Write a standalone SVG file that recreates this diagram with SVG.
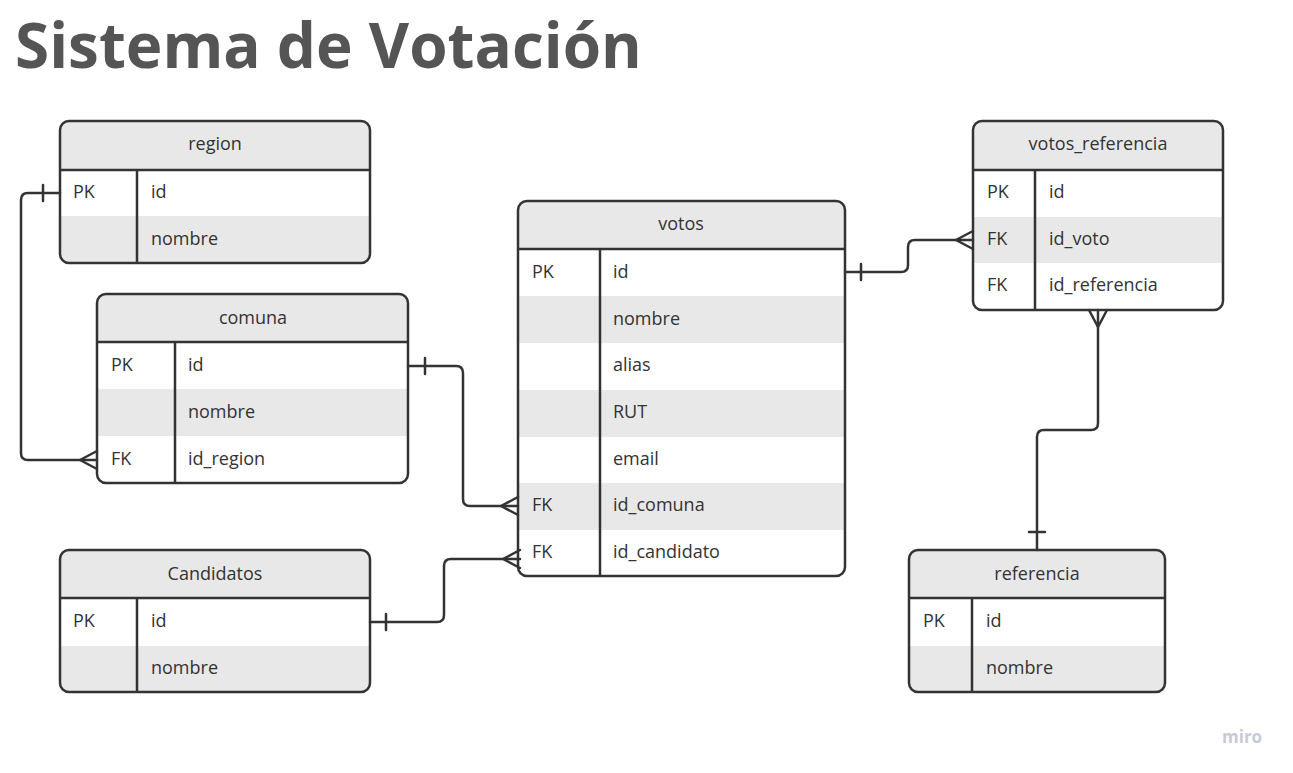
<svg xmlns="http://www.w3.org/2000/svg" width="1293" height="773" viewBox="0 0 1293 773">
<style>
.title{font-family:"Open Sans","Noto Sans",sans-serif;font-weight:700;font-size:62px;fill:#555555}
.hd{font-family:"Open Sans","Noto Sans",sans-serif;font-size:18px;fill:#333333;text-anchor:middle}
.tx{font-family:"Open Sans","Noto Sans",sans-serif;font-size:18px;fill:#333333}
.frame{fill:none;stroke:#333333;stroke-width:2.5}
.line{stroke:#333333;stroke-width:2.5;fill:none}
.gray{fill:#e8e8e8}
.white{fill:#ffffff}
.conn{fill:none;stroke:#333333;stroke-width:2.5;stroke-linejoin:round;stroke-linecap:round}
.miro{font-family:"Open Sans","Noto Sans",sans-serif;font-weight:700;font-size:17px;fill:#c9c9d6}
</style>
<rect width="1293" height="773" fill="#ffffff"/>
<text class="title" x="15" y="68">Sistema de Votación</text>

<g id="region">
<clipPath id="c-region"><rect x="60" y="121" width="310" height="142" rx="9"/></clipPath>
<g clip-path="url(#c-region)">
<rect class="gray" x="60" y="121" width="310" height="49"/>
<rect class="white" x="60" y="170" width="310" height="46"/>
<rect class="gray" x="60" y="216" width="310" height="47"/>
</g>
<rect class="frame" x="60" y="121" width="310" height="142" rx="9"/>
<line class="line" x1="60" y1="170" x2="370" y2="170"/>
<line class="line" x1="137" y1="170" x2="137" y2="263"/>
<text class="hd" x="215" y="150">region</text>
<text class="tx" x="73" y="198">PK</text><text class="tx" x="151" y="198">id</text>
<text class="tx" x="151" y="245">nombre</text>
</g>

<g id="comuna">
<clipPath id="c-comuna"><rect x="97" y="294" width="311" height="189" rx="9"/></clipPath>
<g clip-path="url(#c-comuna)">
<rect class="gray" x="97" y="294" width="311" height="48"/>
<rect class="white" x="97" y="342" width="311" height="47"/>
<rect class="gray" x="97" y="389" width="311" height="47"/>
<rect class="white" x="97" y="436" width="311" height="47"/>
</g>
<rect class="frame" x="97" y="294" width="311" height="189" rx="9"/>
<line class="line" x1="97" y1="342" x2="408" y2="342"/>
<line class="line" x1="175" y1="342" x2="175" y2="483"/>
<text class="hd" x="253" y="324">comuna</text>
<text class="tx" x="111" y="371">PK</text><text class="tx" x="188" y="371">id</text>
<text class="tx" x="188" y="418">nombre</text>
<text class="tx" x="111" y="465">FK</text><text class="tx" x="188" y="465">id_region</text>
</g>

<g id="votos">
<clipPath id="c-votos"><rect x="518" y="201" width="327" height="375" rx="9"/></clipPath>
<g clip-path="url(#c-votos)">
<rect class="gray" x="518" y="201" width="327" height="48"/>
<rect class="white" x="518" y="249" width="327" height="47"/>
<rect class="gray" x="518" y="296" width="327" height="47"/>
<rect class="white" x="518" y="343" width="327" height="47"/>
<rect class="gray" x="518" y="390" width="327" height="47"/>
<rect class="white" x="518" y="437" width="327" height="46"/>
<rect class="gray" x="518" y="483" width="327" height="47"/>
<rect class="white" x="518" y="530" width="327" height="46"/>
</g>
<rect class="frame" x="518" y="201" width="327" height="375" rx="9"/>
<line class="line" x1="518" y1="249" x2="845" y2="249"/>
<line class="line" x1="600" y1="249" x2="600" y2="576"/>
<text class="hd" x="681" y="230">votos</text>
<text class="tx" x="532" y="278">PK</text><text class="tx" x="613" y="278">id</text>
<text class="tx" x="613" y="325">nombre</text>
<text class="tx" x="613" y="371">alias</text>
<text class="tx" x="613" y="418">RUT</text>
<text class="tx" x="613" y="465">email</text>
<text class="tx" x="532" y="511">FK</text><text class="tx" x="613" y="511">id_comuna</text>
<text class="tx" x="532" y="558">FK</text><text class="tx" x="613" y="558">id_candidato</text>
</g>

<g id="votos_referencia">
<clipPath id="c-vr"><rect x="973" y="121" width="250" height="189" rx="9"/></clipPath>
<g clip-path="url(#c-vr)">
<rect class="gray" x="973" y="121" width="250" height="49"/>
<rect class="white" x="973" y="170" width="250" height="47"/>
<rect class="gray" x="973" y="217" width="250" height="46"/>
<rect class="white" x="973" y="263" width="250" height="47"/>
</g>
<rect class="frame" x="973" y="121" width="250" height="189" rx="9"/>
<line class="line" x1="973" y1="170" x2="1223" y2="170"/>
<line class="line" x1="1035" y1="170" x2="1035" y2="310"/>
<text class="hd" x="1098" y="150">votos_referencia</text>
<text class="tx" x="987" y="198">PK</text><text class="tx" x="1049" y="198">id</text>
<text class="tx" x="987" y="245">FK</text><text class="tx" x="1049" y="245">id_voto</text>
<text class="tx" x="987" y="291">FK</text><text class="tx" x="1049" y="291">id_referencia</text>
</g>

<g id="Candidatos">
<clipPath id="c-cand"><rect x="60" y="550" width="310" height="142" rx="9"/></clipPath>
<g clip-path="url(#c-cand)">
<rect class="gray" x="60" y="550" width="310" height="48"/>
<rect class="white" x="60" y="598" width="310" height="48"/>
<rect class="gray" x="60" y="646" width="310" height="46"/>
</g>
<rect class="frame" x="60" y="550" width="310" height="142" rx="9"/>
<line class="line" x1="60" y1="598" x2="370" y2="598"/>
<line class="line" x1="137" y1="598" x2="137" y2="692"/>
<text class="hd" x="215" y="580">Candidatos</text>
<text class="tx" x="73" y="627">PK</text><text class="tx" x="151" y="627">id</text>
<text class="tx" x="151" y="674">nombre</text>
</g>

<g id="referencia">
<clipPath id="c-ref"><rect x="909" y="550" width="256" height="142" rx="9"/></clipPath>
<g clip-path="url(#c-ref)">
<rect class="gray" x="909" y="550" width="256" height="48"/>
<rect class="white" x="909" y="598" width="256" height="48"/>
<rect class="gray" x="909" y="646" width="256" height="46"/>
</g>
<rect class="frame" x="909" y="550" width="256" height="142" rx="9"/>
<line class="line" x1="909" y1="598" x2="1165" y2="598"/>
<line class="line" x1="972" y1="598" x2="972" y2="692"/>
<text class="hd" x="1037" y="580">referencia</text>
<text class="tx" x="923" y="627">PK</text><text class="tx" x="986" y="627">id</text>
<text class="tx" x="986" y="674">nombre</text>
</g>

<g id="connectors">
<!-- region - comuna -->
<path class="conn" d="M60,193 H28 Q21,193 21,200 V453 Q21,460 28,460 H97"/>
<path class="conn" d="M43,185 V201"/>
<path class="conn" d="M97,451 L80,460 L97,469"/>
<!-- comuna - votos -->
<path class="conn" d="M408,366 H456 Q463,366 463,373 V499 Q463,506 470,506 H518"/>
<path class="conn" d="M425,358 V374"/>
<path class="conn" d="M518,497 L501,506 L518,515"/>
<!-- Candidatos - votos -->
<path class="conn" d="M370,622 H437 Q444,622 444,615 V566 Q444,559 451,559 H520"/>
<path class="conn" d="M386,614 V630"/>
<path class="conn" d="M520,550 L503,559 L520,568"/>
<!-- votos - votos_referencia -->
<path class="conn" d="M845,272 H901 Q908,272 908,265 V247 Q908,240 915,240 H973"/>
<path class="conn" d="M861,264 V280"/>
<path class="conn" d="M973,231 L956,240 L973,249"/>
<!-- votos_referencia - referencia -->
<path class="conn" d="M1098,310 V423 Q1098,430 1091,430 H1044 Q1037,430 1037,437 V550"/>
<path class="conn" d="M1089,310 L1098,327 L1107,310"/>
<path class="conn" d="M1029,532 H1045"/>
</g>
<text class="miro" x="1222" y="743">miro</text>
</svg>
